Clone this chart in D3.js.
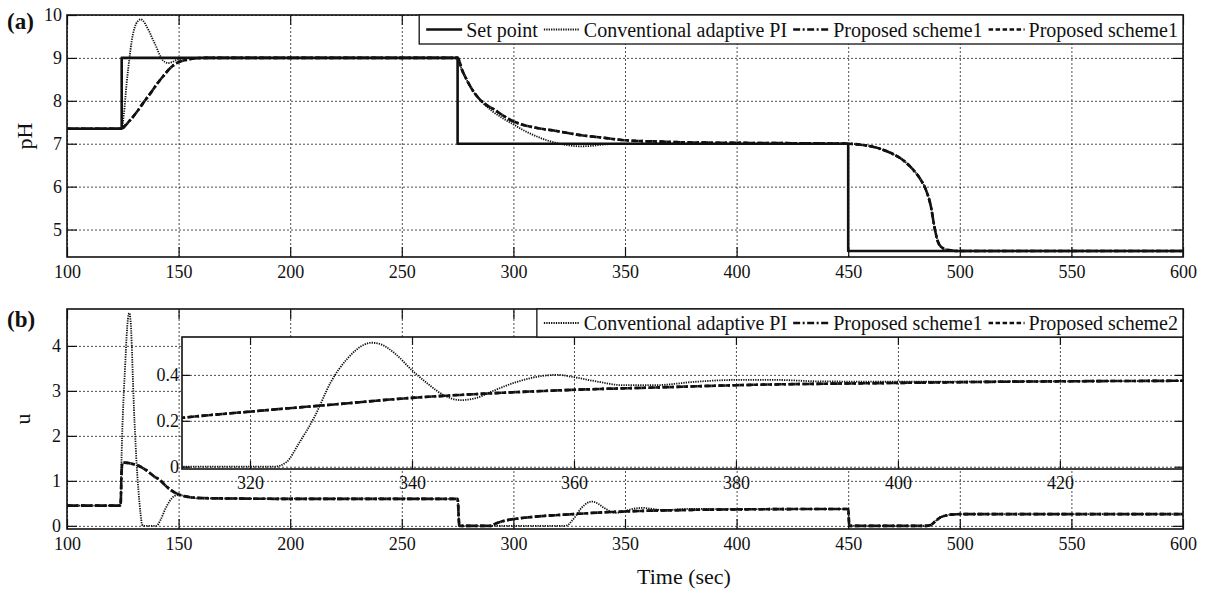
<!DOCTYPE html>
<html>
<head>
<meta charset="utf-8">
<style>
  body { margin: 0; background: #fff; }
  svg { display: block; }
  svg text { font-family: 'Liberation Serif', 'DejaVu Serif', serif; }
</style>
</head>
<body>
<div id="chart"></div>
<script src="https://cdn.jsdelivr.net/npm/d3@7"></script>
<script type="module">

// ---- values ----
const timeTicks = [100, 150, 200, 250, 300, 350, 400, 450, 500, 550, 600]
const pHTicks = [5, 6, 7, 8, 9, 10]
const uTicks = [0, 1, 2, 3, 4]
const insetTimeTicks = [320, 340, 360, 380, 400, 420]
const insetUTicks = [0, 0.2, 0.4]

const legendA = ['Set point', 'Conventional adaptive PI', 'Proposed scheme1', 'Proposed scheme1']
const legendB = ['Conventional adaptive PI', 'Proposed scheme1', 'Proposed scheme2']

const setPoint = [[100, 7.35], [124.5, 9], [275, 7], [450, 4.5], [600, 4.5]]

const convPH = [[100, 7.35], [124.5, 7.35], [125.5, 7.7], [126.7, 8.4], [128, 9.0], [129, 9.4], [130, 9.65],
  [131, 9.8], [132, 9.87], [133, 9.9], [134, 9.87], [135, 9.8], [136, 9.7], [137, 9.6], [138, 9.48],
  [139, 9.37], [140, 9.26], [141, 9.13], [142, 9.02], [143, 8.94], [144, 8.9], [145.3, 8.88], [147, 8.9],
  [149, 8.95], [151, 8.98], [155, 9.0], [275, 9.0], [277, 8.7], [280, 8.4], [283, 8.15], [286, 7.97],
  [290, 7.78], [295, 7.6], [300, 7.45], [305, 7.3], [310, 7.18], [315, 7.08], [320, 7.01], [325, 6.96],
  [330, 6.94], [335, 6.95], [340, 6.98], [350, 7.0], [450, 7.0], [455, 6.98], [460, 6.94], [465, 6.87],
  [470, 6.76], [475, 6.6], [479, 6.4], [482, 6.2], [485, 5.9], [487, 5.55], [488.5, 5.1], [490, 4.75],
  [492, 4.58], [495, 4.52], [500, 4.5], [600, 4.5]]

const scheme1PH = [[100, 7.35], [124.5, 7.35], [126, 7.42], [128, 7.53], [131, 7.72], [134, 7.94], [136, 8.08],
  [138, 8.22], [141, 8.44], [144, 8.63], [146, 8.75], [148, 8.84], [150, 8.9], [153, 8.95], [156, 8.98],
  [162, 9.0], [275, 9.0], [277, 8.72], [279, 8.5], [281.8, 8.24], [285, 8.03], [288, 7.9], [290.7, 7.82],
  [295, 7.67], [299.6, 7.53], [305, 7.43], [310, 7.37], [319, 7.3], [330, 7.2], [340, 7.14], [350, 7.08],
  [365, 7.05], [380, 7.03], [400, 7.02], [430, 7.01], [450, 7.0], [455, 6.98], [460, 6.94], [465, 6.87],
  [470, 6.76], [475, 6.6], [479, 6.4], [482, 6.2], [485, 5.9], [487, 5.55], [488.5, 5.1], [490, 4.75],
  [492, 4.58], [495, 4.52], [500, 4.5], [600, 4.5]]

const scheme2PH = [[100, 7.35], [124.5, 7.35], [126, 7.42], [128, 7.53], [131, 7.72], [134, 7.94], [136, 8.08],
  [138, 8.22], [141, 8.44], [144, 8.63], [146, 8.75], [148, 8.84], [150, 8.9], [153, 8.95], [156, 8.98],
  [162, 9.0], [275, 9.0], [277, 8.72], [279, 8.5], [281.8, 8.24], [285, 8.03], [288, 7.9], [290.7, 7.82],
  [295, 7.67], [299.6, 7.53], [305, 7.43], [310, 7.37], [319, 7.3], [330, 7.2], [340, 7.14], [350, 7.08],
  [365, 7.05], [380, 7.03], [400, 7.02], [430, 7.01], [450, 7.0], [455, 6.98], [460, 6.94], [465, 6.87],
  [470, 6.76], [475, 6.6], [479, 6.4], [482, 6.2], [485, 5.9], [487, 5.55], [488.5, 5.1], [490, 4.75],
  [492, 4.58], [495, 4.52], [500, 4.5], [600, 4.5]]

const convU = [[100, 0.45], [124, 0.45], [124.3, 1.2], [124.7, 2.0], [125.3, 2.8], [126, 3.5], [126.7, 4.2],
  [127.3, 4.6], [127.9, 4.73], [128.5, 4.55], [129, 4.05], [129.5, 3.3], [130, 2.6], [130.5, 2.05],
  [131, 1.55], [132, 0.8], [133, 0.25], [133.6, 0.03], [134.2, 0], [140, 0], [142, 0.14], [144, 0.37],
  [146, 0.55], [148, 0.66], [150, 0.69], [152, 0.67], [155, 0.63], [160, 0.61], [275, 0.6], [275.8, 0],
  [323, 0], [324.5, 0.02], [326, 0.1], [328, 0.22], [330, 0.37], [332, 0.47], [334, 0.53], [335, 0.54],
  [336, 0.535], [338, 0.49], [340, 0.42], [342, 0.36], [344, 0.31], [346, 0.29], [348, 0.3], [350, 0.33],
  [353, 0.37], [356, 0.395], [358, 0.4], [360, 0.39], [363, 0.37], [366, 0.355], [370, 0.355], [375, 0.37],
  [380, 0.378], [385, 0.378], [390, 0.372], [400, 0.37], [420, 0.372], [450, 0.375], [450.5, 0], [485, 0],
  [487, 0.02], [489, 0.1], [491, 0.18], [493, 0.22], [496, 0.25], [500, 0.26], [600, 0.26]]

const scheme1U = [[100, 0.45], [124, 0.45], [124.4, 1.1], [124.8, 1.41], [127, 1.4], [130, 1.37],
  [132.7, 1.32], [136, 1.22], [139, 1.1], [141.6, 1.02], [144, 0.9], [147.6, 0.76], [150, 0.7],
  [153.6, 0.65], [159.6, 0.62], [170, 0.61], [200, 0.6], [275, 0.6], [275.8, 0], [290, 0], [292, 0.05],
  [295, 0.1], [300, 0.15], [305, 0.18], [311, 0.21], [320, 0.24], [330, 0.27], [340, 0.3], [350, 0.32],
  [360, 0.335], [370, 0.345], [380, 0.355], [400, 0.365], [420, 0.372], [450, 0.375], [450.5, 0], [485, 0],
  [487, 0.02], [489, 0.1], [491, 0.18], [493, 0.22], [496, 0.25], [500, 0.26], [600, 0.26]]

const scheme2U = [[100, 0.45], [124, 0.45], [124.4, 1.1], [124.8, 1.41], [127, 1.4], [130, 1.37],
  [132.7, 1.32], [136, 1.22], [139, 1.1], [141.6, 1.02], [144, 0.9], [147.6, 0.76], [150, 0.7],
  [153.6, 0.65], [159.6, 0.62], [170, 0.61], [200, 0.6], [275, 0.6], [275.8, 0], [290, 0], [292, 0.05],
  [295, 0.1], [300, 0.15], [305, 0.18], [311, 0.21], [320, 0.24], [330, 0.27], [340, 0.3], [350, 0.32],
  [360, 0.335], [370, 0.345], [380, 0.355], [400, 0.365], [420, 0.372], [450, 0.375], [450.5, 0], [485, 0],
  [487, 0.02], [489, 0.1], [491, 0.18], [493, 0.22], [496, 0.25], [500, 0.26], [600, 0.26]]

// ---- layout ----
const width = 1213
const height = 591
const left = 67
const right = 1183
const ink = '#111'
const serif = 'Liberation Serif'

const styles = {
  set: { w: 2.6, dash: null },
  conv: { w: 1.8, dash: '1.3,1.1' },
  s1: { w: 2.6, dash: '7,2.5,2,2.5' },
  s2: { w: 2.6, dash: '4.5,2.5' }
}

const svg = d3.select('#chart')
  .append('svg')
  .attr('width', width)
  .attr('height', height)
  .attr('font-family', serif)

const x = d3.scaleLinear().domain([100, 600]).range([left, right])
const yA = d3.scaleLinear().domain([4.36, 10]).range([257, 15])
const yB = d3.scaleLinear().domain([-0.07, 4.82]).range([529, 309])

const xIn = d3.scaleLinear().domain([311.6, 435.2]).range([182, right])
const yIn = d3.scaleLinear().domain([-0.01, 0.565]).range([469, 337])

function drawGrid(g, xs, ys, xt, yt) {
  const [x0, x1] = xs.range()
  const [y0, y1] = ys.range()
  g.append('g')
    .attr('transform', `translate(0,${y0})`)
    .call(d3.axisBottom(xs).tickValues(xt).tickSize(-(y0 - y1)).tickFormat(''))
    .call(s => s.select('.domain').remove())
  g.append('g')
    .attr('transform', `translate(${x0},0)`)
    .call(d3.axisLeft(ys).tickValues(yt).tickSize(-(x1 - x0)).tickFormat(''))
    .call(s => s.select('.domain').remove())
  g.selectAll('.tick line')
    .attr('stroke', '#222')
    .attr('stroke-width', 0.8)
    .attr('stroke-dasharray', '2,2')
}

function drawFrame(g, xs, ys, xt, yt, tl, fmt, xPad, yPad) {
  const [x0, x1] = xs.range()
  const [y0, y1] = ys.range()
  const axes = g.append('g')
  axes.append('g').attr('transform', `translate(0,${y0})`)
    .call(d3.axisBottom(xs).tickValues(xt).tickSizeInner(-tl).tickSizeOuter(0).tickPadding(xPad))
  axes.append('g').attr('transform', `translate(0,${y1})`)
    .call(d3.axisTop(xs).tickValues(xt).tickSizeInner(-tl).tickSizeOuter(0).tickFormat(''))
  axes.append('g').attr('transform', `translate(${x0},0)`)
    .call(d3.axisLeft(ys).tickValues(yt).tickSizeInner(-tl).tickSizeOuter(0).tickPadding(yPad).tickFormat(fmt))
  axes.append('g').attr('transform', `translate(${x1},0)`)
    .call(d3.axisRight(ys).tickValues(yt).tickSizeInner(-tl).tickSizeOuter(0).tickFormat(''))
  axes.selectAll('.domain').remove()
  axes.selectAll('g').attr('font-family', serif).attr('font-size', 18)
  axes.selectAll('.tick line').attr('stroke', ink).attr('stroke-width', 1.2)
  axes.selectAll('text').attr('fill', ink)
  g.append('rect')
    .attr('x', x0).attr('y', y1)
    .attr('width', x1 - x0).attr('height', y0 - y1)
    .attr('fill', 'none').attr('stroke', ink).attr('stroke-width', 1.6)
}

function drawSeries(g, data, xs, ys, st, curve) {
  g.append('path')
    .datum(data)
    .attr('d', d3.line().x(d => xs(d[0])).y(d => ys(d[1])).curve(curve || d3.curveMonotoneX))
    .attr('fill', 'none')
    .attr('stroke', ink)
    .attr('stroke-width', st.w)
    .attr('stroke-dasharray', st.dash)
    .attr('stroke-linejoin', 'round')
}

function clipFor(id, xs, ys) {
  const [x0, x1] = xs.range()
  const [y0, y1] = ys.range()
  svg.append('clipPath').attr('id', id)
    .append('rect')
    .attr('x', x0).attr('y', y1 - 2)
    .attr('width', x1 - x0).attr('height', y0 - y1 + 4)
  return `url(#${id})`
}

function drawLegend(entries, st, top, h) {
  const lg = svg.append('g')
  const box = lg.append('rect')
    .attr('y', top).attr('height', h)
    .attr('fill', '#fff').attr('stroke', ink).attr('stroke-width', 1.3)
  let cx = 7
  entries.forEach((name, i) => {
    const s = st[i]
    lg.append('line')
      .attr('x1', cx).attr('x2', cx + 36)
      .attr('y1', top + h / 2).attr('y2', top + h / 2)
      .attr('stroke', ink).attr('stroke-width', s.w)
      .attr('stroke-dasharray', s.dash)
    const t = lg.append('text')
      .attr('x', cx + 40).attr('y', top + h / 2 + 7)
      .attr('font-family', serif)
      .attr('font-size', 20)
      .attr('fill', ink)
      .text(name)
    cx += 40 + t.node().getComputedTextLength() + 6
  })
  const w = cx - 1
  box.attr('x', 0).attr('width', w)
  lg.attr('transform', `translate(${right - w},0)`)
}

// ---- panel (a) ----
const gA = svg.append('g')
drawGrid(gA, x, yA, timeTicks, pHTicks)
const dataA = gA.append('g').attr('clip-path', clipFor('clipA', x, yA))
drawSeries(dataA, convPH, x, yA, styles.conv)
drawSeries(dataA, scheme2PH, x, yA, styles.s2)
drawSeries(dataA, scheme1PH, x, yA, styles.s1)
drawSeries(dataA, setPoint, x, yA, styles.set, d3.curveStepAfter)
drawFrame(gA, x, yA, timeTicks, pHTicks, 10, d3.format('d'), 8, 5)
drawLegend(legendA, [styles.set, styles.conv, styles.s1, styles.s2], 15, 29)

// ---- panel (b) ----
const gB = svg.append('g')
drawGrid(gB, x, yB, timeTicks, uTicks)
const dataB = gB.append('g').attr('clip-path', clipFor('clipB', x, yB))
drawSeries(dataB, convU, x, yB, styles.conv)
drawSeries(dataB, scheme2U, x, yB, styles.s2)
drawSeries(dataB, scheme1U, x, yB, styles.s1)
drawFrame(gB, x, yB, timeTicks, uTicks, 10, d3.format('d'), 8, 6)

// inset zoom of u
const gI = svg.append('g')
gI.append('rect')
  .attr('x', xIn.range()[0]).attr('y', yIn.range()[1])
  .attr('width', xIn.range()[1] - xIn.range()[0])
  .attr('height', yIn.range()[0] - yIn.range()[1])
  .attr('fill', '#fff')
drawGrid(gI, xIn, yIn, insetTimeTicks, insetUTicks)
const dataI = gI.append('g').attr('clip-path', clipFor('clipI', xIn, yIn))
drawSeries(dataI, convU, xIn, yIn, styles.conv)
drawSeries(dataI, scheme2U, xIn, yIn, styles.s2)
drawSeries(dataI, scheme1U, xIn, yIn, styles.s1)
drawFrame(gI, xIn, yIn, insetTimeTicks, insetUTicks, 8, d => d === 0 ? '0' : d3.format('.1f')(d), 7, 3)

drawLegend(legendB, [styles.conv, styles.s1, styles.s2], 309, 28)

// ---- labels ----
svg.append('text').attr('x', 7).attr('y', 29)
  .attr('font-size', 23).attr('font-weight', 'bold').attr('fill', ink).text('(a)')
svg.append('text').attr('x', 7).attr('y', 327)
  .attr('font-size', 23).attr('font-weight', 'bold').attr('fill', ink).text('(b)')

svg.append('text')
  .attr('transform', `translate(32,${(yA.range()[0] + yA.range()[1]) / 2}) rotate(-90)`)
  .attr('text-anchor', 'middle')
  .attr('font-size', 22).attr('fill', ink).text('pH')
svg.append('text')
  .attr('transform', `translate(30,${(yB.range()[0] + yB.range()[1]) / 2}) rotate(-90)`)
  .attr('text-anchor', 'middle')
  .attr('font-size', 22).attr('fill', ink).text('u')
svg.append('text')
  .attr('x', 684).attr('y', 584)
  .attr('text-anchor', 'middle')
  .attr('font-size', 22).attr('fill', ink).text('Time (sec)')

</script>
</body>
</html>
